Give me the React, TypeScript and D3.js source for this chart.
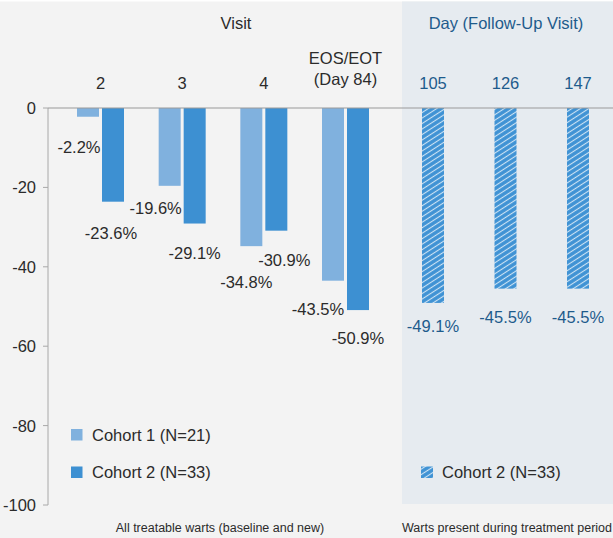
import * as d3 from "d3";

// chart values
const visits = ["2", "3", "4", "EOS/EOT"];
const cohorts = ["Cohort 1 (N=21)", "Cohort 2 (N=33)"];
const cohort1Values = [-2.2, -19.6, -34.8, -43.5];
const cohort2Values = [-23.6, -29.1, -30.9, -50.9];
const followUpDays = ["105", "126", "147"];
const followUpValues = [-49.1, -45.5, -45.5];
const yTicks = [0, -20, -40, -60, -80, -100];

// hand placement of the value labels (dx, dy from bar end)
const c1Nudge = [[-9, 36], [-14, 28], [-5, 42], [-15, 34]];
const c2Nudge = [[-2, 37], [0, 35], [8, 35], [0, 34]];
const fuNudge = [[0, 29], [0, 34], [0, 34]];

const W = 613;
const H = 538;
const FONT = "'Liberation Sans', Arial, Helvetica, sans-serif";
const FS = 16.5;
const C1 = "#80b1de";
const C2 = "#3d90d2";
const TEXT = "#2b2b2b";
const BLUE_TEXT = "#1e5b8c";

export default function App() {
  const y = d3.scaleLinear().domain([0, -100]).range([108, 505]);
  const xVisit = d3.scalePoint<string>().domain(visits).range([100.5, 345.5]);
  const xCohort = d3
    .scaleBand<string>()
    .domain(cohorts)
    .range([-23.5, 23.5])
    .paddingInner(0.12);
  const xDay = d3.scalePoint<string>().domain(followUpDays).range([433, 578]);
  const bw = xCohort.bandwidth();
  const series = [cohort1Values, cohort2Values];
  const colors = [C1, C2];
  const nudges = [c1Nudge, c2Nudge];

  return (
    <svg
      width={W}
      height={H}
      style={{ position: "absolute", left: 0, top: 0, display: "block" }}
      fontFamily={FONT}
    >
      <defs>
        <pattern
          id="hatch"
          width="6"
          height="4.6"
          patternUnits="userSpaceOnUse"
          patternTransform="rotate(-33)"
        >
          <rect width="6" height="4.6" fill="#3f92d4" />
          <line x1="0" y1="2.3" x2="6" y2="2.3" stroke="#ffffff" strokeWidth="1.1" strokeOpacity="0.75" />
        </pattern>
      </defs>
      <rect width={W} height={H} fill="#ffffff" />
      <rect y={1.5} width={W} height={H} fill="#f3f3f3" />
      <rect x={402} y={1.5} width={W - 402} height={504 - 1.5} fill="#e6ebf0" />

      {/* headers */}
      <text x={236} y={29} textAnchor="middle" fontSize={FS} fill={TEXT}>
        Visit
      </text>
      <text x={506} y={29} textAnchor="middle" fontSize={FS} fill={BLUE_TEXT}>
        Day (Follow-Up Visit)
      </text>
      {visits.map((v) =>
        v === "EOS/EOT" ? (
          <text key={v} x={xVisit(v)} y={64} textAnchor="middle" fontSize={FS} fill={TEXT}>
            <tspan x={xVisit(v)}>EOS/EOT</tspan>
            <tspan x={xVisit(v)} dy={21}>
              (Day 84)
            </tspan>
          </text>
        ) : (
          <text key={v} x={xVisit(v)} y={89} textAnchor="middle" fontSize={FS} fill={TEXT}>
            {v}
          </text>
        )
      )}
      {followUpDays.map((d) => (
        <text key={d} x={xDay(d)} y={89} textAnchor="middle" fontSize={FS} fill={BLUE_TEXT}>
          {d}
        </text>
      ))}

      {/* y axis */}
      <line x1={48} x2={48} y1={y(0)} y2={y(-100)} stroke="#a8a8a8" strokeWidth={1} />
      {yTicks.map((t) => (
        <g key={t}>
          <line x1={43} x2={48} y1={y(t)} y2={y(t)} stroke="#a8a8a8" />
          <text x={36} y={y(t) + 6} textAnchor="end" fontSize={FS} fill={TEXT}>
            {t}
          </text>
        </g>
      ))}

      {/* visit bars */}
      {series.map((vals, si) =>
        vals.map((v, i) => {
          const cx = (xVisit(visits[i]) as number) + (xCohort(cohorts[si]) as number);
          return (
            <g key={`${si}-${i}`}>
              <rect x={cx} y={y(0)} width={bw} height={y(v) - y(0)} fill={colors[si]} />
              <text
                x={cx + bw / 2 + nudges[si][i][0]}
                y={y(v) + nudges[si][i][1]}
                textAnchor="middle"
                fontSize={FS}
                fill={TEXT}
              >
                {`${v.toFixed(1)}%`}
              </text>
            </g>
          );
        })
      )}

      {/* follow-up bars */}
      {followUpValues.map((v, i) => {
        const cx = xDay(followUpDays[i]) as number;
        return (
          <g key={`fu-${i}`}>
            <rect x={cx - bw / 2} y={y(0)} width={bw} height={y(v) - y(0)} fill="url(#hatch)" />
            <text
              x={cx + fuNudge[i][0]}
              y={y(v) + fuNudge[i][1]}
              textAnchor="middle"
              fontSize={FS}
              fill={BLUE_TEXT}
            >
              {`${v.toFixed(1)}%`}
            </text>
          </g>
        );
      })}

      {/* zero line */}
      <line x1={48} x2={W} y1={y(0)} y2={y(0)} stroke="#9a9a9a" strokeWidth={1.2} />

      {/* legends */}
      {cohorts.map((c, i) => (
        <g key={c} transform={`translate(71,${429 + i * 37.5})`}>
          <rect width={11.5} height={11.5} fill={colors[i]} />
          <text x={21} y={11.5} fontSize={FS} fill={TEXT}>
            {c}
          </text>
        </g>
      ))}
      <g transform="translate(421,466.5)">
        <rect width={12} height={11.5} fill="url(#hatch)" />
        <text x={21} y={11.5} fontSize={FS} fill={TEXT}>
          {cohorts[1]}
        </text>
      </g>

      {/* footers */}
      <text x={220} y={532} textAnchor="middle" fontSize={12.5} fill={TEXT}>
        All treatable warts (baseline and new)
      </text>
      <text x={507} y={532} textAnchor="middle" fontSize={12.5} fill={TEXT}>
        Warts present during treatment period
      </text>
    </svg>
  );
}
